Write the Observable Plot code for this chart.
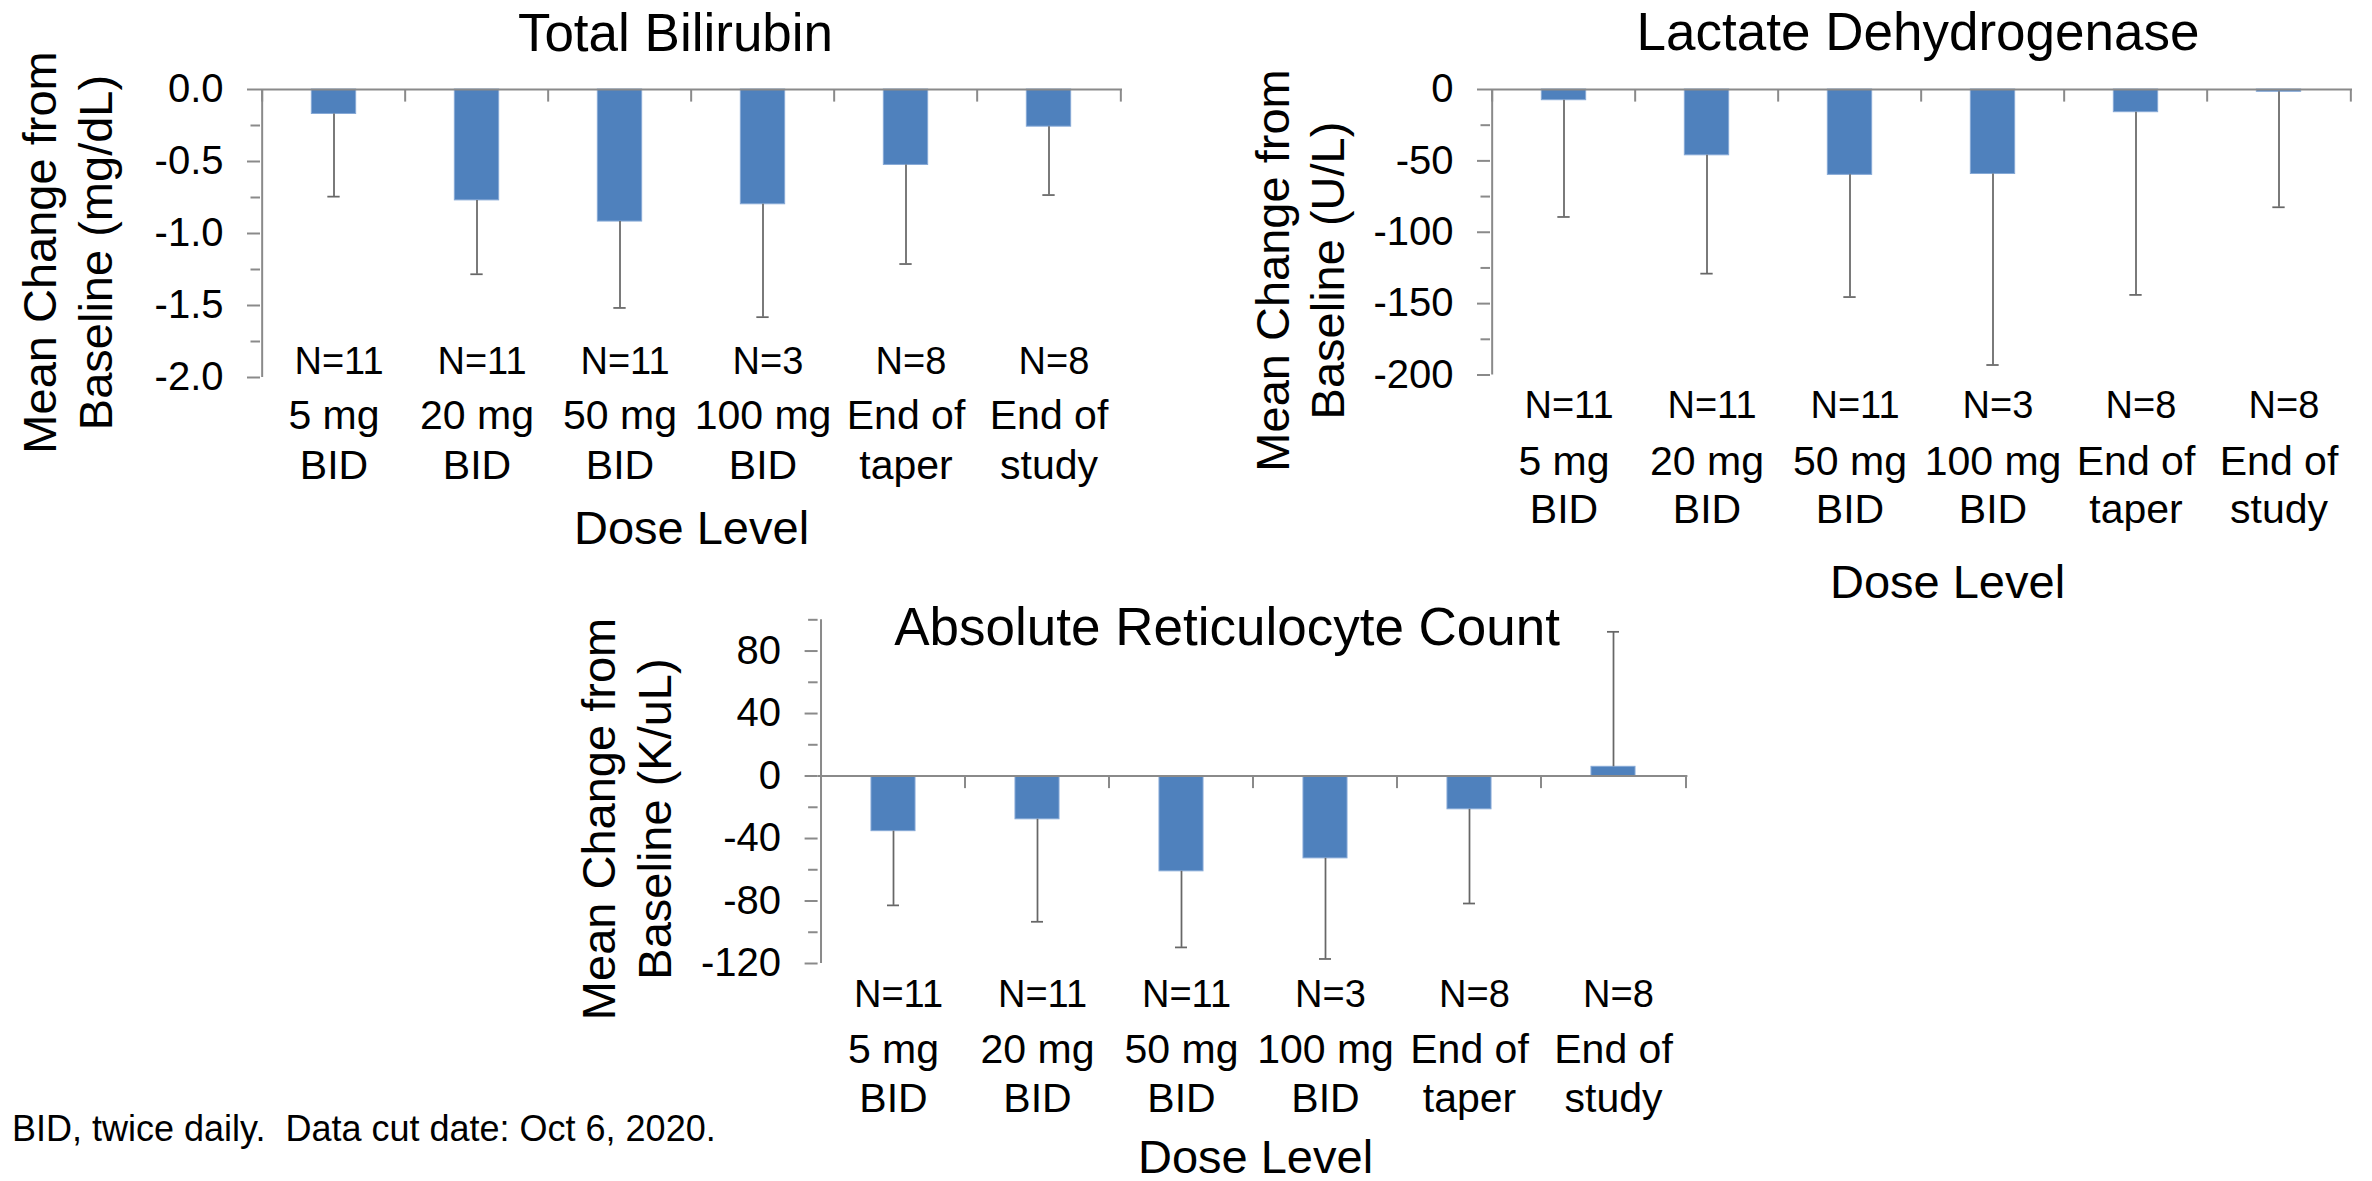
<!DOCTYPE html>
<html>
<head>
<meta charset="utf-8">
<script src="https://cdn.jsdelivr.net/npm/d3@7"></script>
<script src="https://cdn.jsdelivr.net/npm/@observablehq/plot@0.6"></script>
<style>
  html, body { margin: 0; padding: 0; background: #ffffff; }
  #page { position: relative; width: 2372px; height: 1181px; overflow: hidden; background: #ffffff;
          font-family: "Liberation Sans", Arial, Helvetica, sans-serif; }
  #page svg { position: absolute; left: 0; top: 0; }
  #foot { position: absolute; left: 12px; top: 1111px; font-size: 36px; line-height: 36px;
          white-space: pre; color: #000; }
</style>
</head>
<body>
<div id="page"><div id="foot"></div></div>
<script>
// ---------------- data ----------------
const categories = ["5 mg\nBID", "20 mg\nBID", "50 mg\nBID", "100 mg\nBID", "End of\ntaper", "End of\nstudy"];
const nLabels = ["N=11", "N=11", "N=11", "N=3", "N=8", "N=8"];
const xTitle = "Dose Level";

const bilirubinTitle = "Total Bilirubin";
const bilirubinYLabel = "Mean Change from\nBaseline (mg/dL)";
const bilirubinMean = [-0.17, -0.77, -0.917, -0.797, -0.524, -0.258];
const bilirubinSD = [0.574, 0.513, 0.600, 0.784, 0.688, 0.475];
const bilirubinTicks = [0, -0.5, -1.0, -1.5, -2.0];
const bilirubinMinorTicks = [-0.25, -0.75, -1.25, -1.75];
const bilirubinDomain = [-2, 0];

const ldhTitle = "Lactate Dehydrogenase";
const ldhYLabel = "Mean Change from\nBaseline (U/L)";
const ldhMean = [-7.5, -46.1, -59.8, -59.2, -15.9, -1.6];
const ldhSD = [81.8, 82.9, 85.6, 133.8, 128.0, 80.9];
const ldhTicks = [0, -50, -100, -150, -200];
const ldhMinorTicks = [-25, -75, -125, -175];
const ldhDomain = [-200, 0];

const arcTitle = "Absolute Reticulocyte Count";
const arcYLabel = "Mean Change from\nBaseline (K/uL)";
const arcMean = [-35.3, -27.7, -61.0, -52.7, -21.3, 5.9];
const arcSD = [47.5, 65.6, 48.7, 64.4, 60.3, 86.4];
const arcTicks = [80, 40, 0, -40, -80, -120];
const arcMinorTicks = [100, 60, 20, -20, -60, -100];
const arcDomain = [-120, 100];

const footnote = "BID, twice daily.  Data cut date: Oct 6, 2020.";

// ---------------- styles / layout ----------------
const W = 2372, H = 1181;
const FONT = '"Liberation Sans", Arial, Helvetica, sans-serif';
const C = {bar: "#4F81BD", barEdge: "#86a9d6", err: "#676767", axis: "#8a8a8a"};

const layouts = {
  bilirubin: {left: 260, right: 1122, top: 89, bottom: 377,
    titleX: 675, titleBase: 50.5, yTitleX: 111, yTitleY: 252,
    nBase: 373, catBase: 478.4, catLH: 49.8, xTitleX: 691, xTitleBase: 543},
  ldh: {left: 1490, right: 2352, top: 89, bottom: 374.5,
    titleX: 1917.5, titleBase: 49, yTitleX: 1343.5, yTitleY: 270,
    nBase: 417, catBase: 522.4, catLH: 47.8, xTitleX: 1947, xTitleBase: 597},
  arc: {left: 817.6, right: 1687.4, top: 619.3, bottom: 963,
    titleX: 1226.6, titleBase: 644, yTitleX: 670, yTitleY: 818.5,
    nBase: 1006.6, catBase: 1111, catLH: 48.6, xTitleX: 1255, xTitleBase: 1172}
};

function panel({mean, sd, ticks, minor, domain, fmt, title, ylabel, L}) {
  const rows = categories.map((c, i) => ({
    cat: c, n: nLabels[i], mean: mean[i],
    end: mean[i] + (mean[i] >= 0 ? 1 : -1) * sd[i]
  }));
  const step = (L.right - L.left) / categories.length;
  const pxPerUnit = (L.bottom - L.top) / (domain[1] - domain[0]);
  const sepDepth = 12.6 / pxPerUnit;
  const barInset = (step - 45) / 2;
  const capInset = (step - 13) / 2;
  const last = categories[categories.length - 1];
  return Plot.plot({
    width: W, height: H,
    marginLeft: L.left, marginRight: W - L.right, marginTop: L.top, marginBottom: H - L.bottom,
    style: {background: "transparent", overflow: "visible", fontFamily: FONT, color: "#000"},
    x: {domain: categories, padding: 0, axis: null},
    y: {domain, axis: null},
    marks: [
      Plot.barY(rows, {x: "cat", y1: 0, y2: "mean", fill: C.bar, stroke: C.barEdge, strokeWidth: 1,
        insetLeft: barInset, insetRight: barInset}),
      Plot.ruleX(rows, {x: "cat", y1: "mean", y2: "end", stroke: C.err, strokeWidth: 1.75}),
      Plot.tickY(rows, {x: "cat", y: "end", stroke: C.err, strokeWidth: 1.75,
        insetLeft: capInset, insetRight: capInset}),
      Plot.ruleY([0], {stroke: C.axis, strokeWidth: 2}),
      Plot.ruleX([categories[0]], {x: d => d, y1: domain[0], y2: domain[1], dx: -step / 2,
        stroke: C.axis, strokeWidth: 2}),
      Plot.ruleX(categories, {x: d => d, y1: 0, y2: -sepDepth, dx: -step / 2, stroke: C.axis, strokeWidth: 2}),
      Plot.ruleX([last], {x: d => d, y1: 0, y2: -sepDepth, dx: step / 2, stroke: C.axis, strokeWidth: 2}),
      Plot.axisY(ticks, {tickSize: 13, tickPadding: 24, fontSize: 40, tickFormat: fmt,
        stroke: C.axis, strokeWidth: 2, fill: "#000", label: null}),
      Plot.axisY(minor, {tickSize: 9.5, tickFormat: () => "", stroke: C.axis, strokeWidth: 2, label: null}),
      Plot.text(rows, {x: "cat", text: "n", frameAnchor: "bottom", dy: L.nBase - L.bottom, dx: 5,
        lineAnchor: "bottom", textAnchor: "middle", fontSize: 38, fill: "#000"}),
      Plot.text(rows, {x: "cat", text: "cat", frameAnchor: "bottom", dy: L.catBase - L.bottom,
        lineAnchor: "bottom", textAnchor: "middle", lineHeight: L.catLH / 41, fontSize: 41, fill: "#000"}),
      Plot.text([title], {text: d => d, frameAnchor: "top-left", dx: L.titleX - L.left, dy: L.titleBase - L.top,
        lineAnchor: "bottom", textAnchor: "middle", fontSize: 53, fill: "#000"}),
      Plot.text([ylabel], {text: d => d, frameAnchor: "top-left", dx: L.yTitleX - L.left, dy: L.yTitleY - L.top,
        rotate: -90, lineAnchor: "bottom", textAnchor: "middle", lineHeight: 55.5 / 47, fontSize: 47, fill: "#000"}),
      Plot.text([xTitle], {text: d => d, frameAnchor: "top-left", dx: L.xTitleX - L.left, dy: L.xTitleBase - L.top,
        lineAnchor: "bottom", textAnchor: "middle", fontSize: 47, fill: "#000"})
    ]
  });
}

const page = document.getElementById("page");
page.appendChild(panel({mean: bilirubinMean, sd: bilirubinSD, ticks: bilirubinTicks, minor: bilirubinMinorTicks,
  domain: bilirubinDomain, fmt: d => d.toFixed(1), title: bilirubinTitle, ylabel: bilirubinYLabel, L: layouts.bilirubin}));
page.appendChild(panel({mean: ldhMean, sd: ldhSD, ticks: ldhTicks, minor: ldhMinorTicks,
  domain: ldhDomain, fmt: d => String(d), title: ldhTitle, ylabel: ldhYLabel, L: layouts.ldh}));
page.appendChild(panel({mean: arcMean, sd: arcSD, ticks: arcTicks, minor: arcMinorTicks,
  domain: arcDomain, fmt: d => String(d), title: arcTitle, ylabel: arcYLabel, L: layouts.arc}));
document.getElementById("foot").textContent = footnote;
</script>
</body>
</html>
